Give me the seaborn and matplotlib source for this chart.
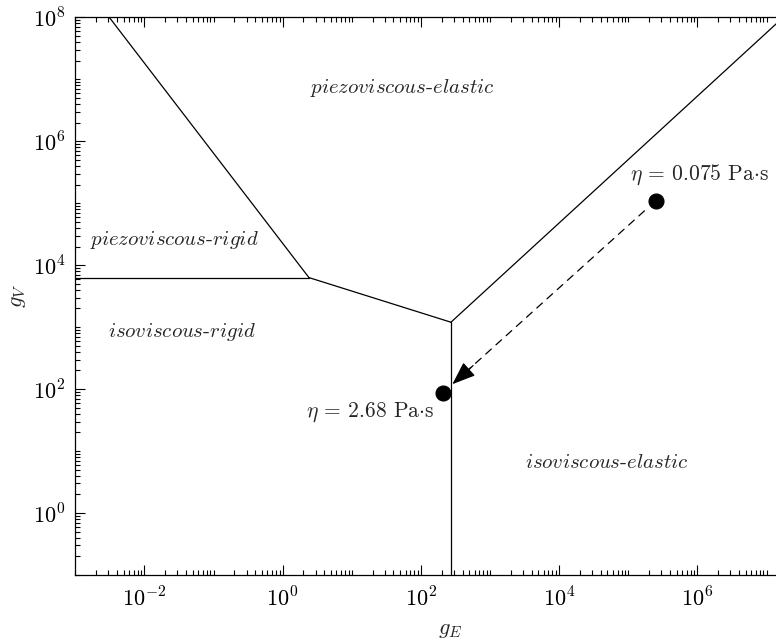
import numpy as np
import pandas as pd
import matplotlib
matplotlib.use("Agg")
import matplotlib.pyplot as plt
from matplotlib.ticker import FixedLocator, FuncFormatter, NullFormatter
import seaborn as sns

# Regime boundaries (g_E, g_V) for each segment of the map
seg_names = ["PR-IR", "PR-PE", "PR/IR-PE", "PE-IE", "IR-IE"]
seg_gE = [[1e-3, 2.40], [3.1e-3, 2.40], [2.40, 272.0], [272.0, 1.75e7], [272.0, 272.0]]
seg_gV = [[6.3e3, 6.3e3], [1e8, 6.3e3], [6.3e3, 1.2e3], [1.2e3, 1e8], [1.2e3, 1e-1]]

# Operating points at two viscosities
pt_labels = [r"$\eta$ = 0.075 Pa$\cdot$s", r"$\eta$ = 2.68 Pa$\cdot$s"]
pt_gE = [2.5e5, 209.0]
pt_gV = [1.1e5, 88.0]
label_gE = [10 ** 6.03, 10 ** 1.26]
label_gV = [10 ** 5.46, 10 ** 1.63]
arrow_tip = (285.0, 120.0)

# Regime names
regions = [r"$\mathit{piezoviscous}$-$\mathit{elastic}$", r"$\mathit{piezoviscous}$-$\mathit{rigid}$",
           r"$\mathit{isoviscous}$-$\mathit{rigid}$", r"$\mathit{isoviscous}$-$\mathit{elastic}$"]
region_gE = [10 ** 1.73, 10 ** -1.57, 10 ** -1.45, 10 ** 4.69]
region_gV = [10 ** 6.86, 10 ** 4.41, 10 ** 2.92, 10 ** 0.81]

# Axis ticks
x_lim = (1e-3, 10 ** 7.137)
y_lim = (1e-1, 1e8)
x_major = [1e-2, 1e0, 1e2, 1e4, 1e6]
y_major = [1e0, 1e2, 1e4, 1e6, 1e8]

sns.set_style("ticks")
plt.rcParams["mathtext.fontset"] = "cm"
plt.rcParams["font.family"] = ["serif"]
plt.rcParams["font.serif"] = ["cmr10", "DejaVu Serif"]
plt.rcParams["axes.unicode_minus"] = False

fig = plt.figure(figsize=(7.76, 6.42), dpi=100)
ax = fig.add_axes([75.3 / 776, 67 / 642, (776 - 75.3) / 776, (575 - 17.3) / 642])
ax.set_xscale("log")
ax.set_yscale("log")

rows = []
for name, xs, ys in zip(seg_names, seg_gE, seg_gV):
    for i, (x, y) in enumerate(zip(xs, ys)):
        rows.append({"segment": name, "order": i, "gE": x, "gV": y})
df = pd.DataFrame(rows)
sns.lineplot(data=df, x="gE", y="gV", units="segment", estimator=None, sort=False,
             color="black", lw=0.9, ax=ax, legend=False)

sns.scatterplot(x=pt_gE, y=pt_gV, color="black", s=115, edgecolor="black", ax=ax, zorder=5)

# Dashed path between the two operating points, ending in a solid head
ax.annotate("", xy=arrow_tip, xytext=(pt_gE[0], pt_gV[0]),
            arrowprops=dict(arrowstyle="-", linestyle=(0, (6, 5)), color="black", lw=0.9,
                            shrinkA=11, shrinkB=10))
tail = (10 ** (np.log10(arrow_tip[0]) + 0.3), 10 ** (np.log10(arrow_tip[1]) + 0.3))
ax.annotate("", xy=arrow_tip, xytext=tail,
            arrowprops=dict(arrowstyle="-|>,head_length=1.45,head_width=0.55", color="black",
                            lw=0.9, shrinkA=0, shrinkB=0))

for txt, x, y in zip(pt_labels, label_gE, label_gV):
    ax.text(x, y, txt, fontsize=15.5, ha="center", va="center")

for txt, x, y in zip(regions, region_gE, region_gV):
    ax.text(x, y, txt, fontsize=15, ha="center", va="center")

ax.set_xlim(*x_lim)
ax.set_ylim(*y_lim)


def decade_minors(lo, hi):
    vals = [m * 10.0 ** k for k in range(int(np.floor(np.log10(lo))), int(np.ceil(np.log10(hi))) + 1)
            for m in range(1, 10)]
    return [v for v in vals if lo <= v <= hi]


fmt = FuncFormatter(lambda v, p: r"$10^{%d}$" % int(round(np.log10(v))))
ax.xaxis.set_major_locator(FixedLocator(x_major))
ax.yaxis.set_major_locator(FixedLocator(y_major))
ax.xaxis.set_minor_locator(FixedLocator(decade_minors(*x_lim)))
ax.yaxis.set_minor_locator(FixedLocator(decade_minors(*y_lim)))
ax.xaxis.set_major_formatter(fmt)
ax.yaxis.set_major_formatter(fmt)
ax.xaxis.set_minor_formatter(NullFormatter())
ax.yaxis.set_minor_formatter(NullFormatter())

ax.tick_params(which="both", direction="in", top=True, right=False, width=0.8, colors="black")
ax.tick_params(which="major", length=7, labelsize=16)
ax.tick_params(axis="x", which="major", pad=8)
ax.tick_params(axis="y", which="major", pad=7)
ax.tick_params(which="minor", length=3.5)

for side in ["left", "bottom", "top"]:
    ax.spines[side].set_linewidth(0.9)
    ax.spines[side].set_color("black")
ax.spines["right"].set_visible(False)

ax.set_xlabel(r"$g_E$", fontsize=16)
ax.set_ylabel(r"$g_V$", fontsize=16)
ax.xaxis.set_label_coords(0.535, -0.082)
ax.yaxis.set_label_coords(-0.067, 0.5)

fig.savefig("out.png", dpi=100)
